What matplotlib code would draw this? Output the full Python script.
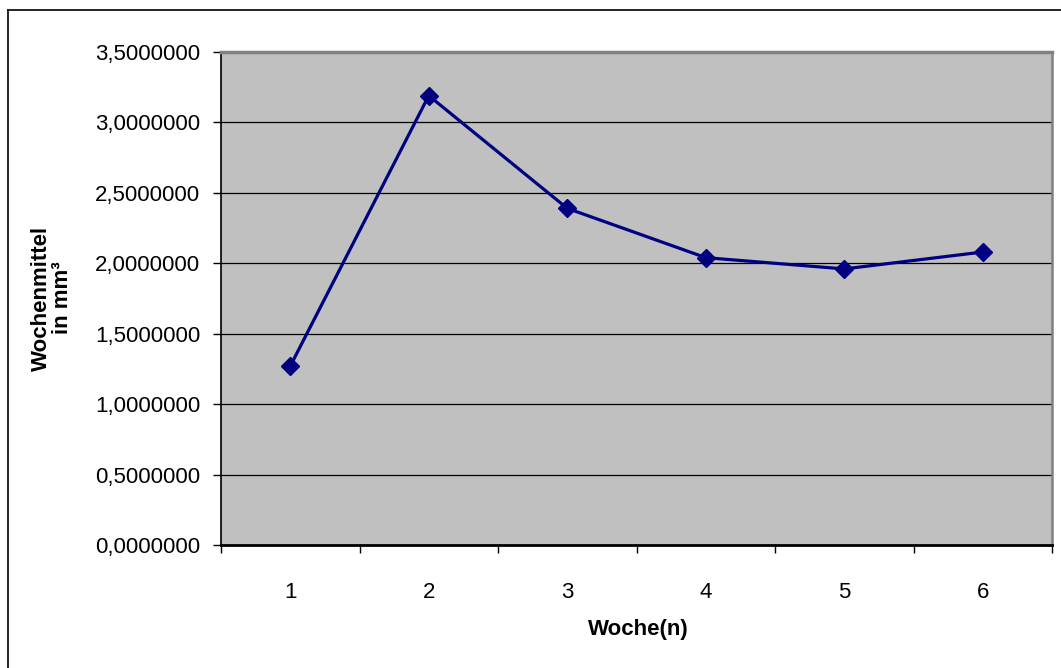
import matplotlib.pyplot as plt
from matplotlib.lines import Line2D
from matplotlib.ticker import FuncFormatter, FixedLocator

plt.rcParams['font.family'] = ['Liberation Sans', 'DejaVu Sans']

weeks = ["1", "2", "3", "4", "5", "6"]
means = [1.27, 3.19, 2.39, 2.04, 1.96, 2.08]
y_ticks = [0.0, 0.5, 1.0, 1.5, 2.0, 2.5, 3.0, 3.5]

W, H = 1061, 668
fig = plt.figure(figsize=(W / 100, H / 100), dpi=100)

# outer chart border (left and top edges visible in the reference)
fig.add_artist(Line2D([8 / W, 8 / W], [-0.1, 1 - 10 / H], color='black', lw=1.2,
                      transform=fig.transFigure))
fig.add_artist(Line2D([8 / W, 1.1], [1 - 10 / H, 1 - 10 / H], color='black', lw=1.2,
                      transform=fig.transFigure))

ax = fig.add_axes([221 / W, 1 - 545 / H, 831 / W, 493 / H])
ax.set_facecolor('#C0C0C0')

x = list(range(1, len(weeks) + 1))
ax.plot(x, means, color='#000080', lw=2.3, marker='D', markersize=9, zorder=3)

ax.set_xlim(0.5, len(weeks) + 0.5)
ax.set_ylim(0, 3.5)

# category ticks between groups, labels centered on groups
ax.xaxis.set_major_locator(FixedLocator([i + 0.5 for i in range(len(weeks) + 1)]))
ax.xaxis.set_major_formatter(FuncFormatter(lambda v, p: ""))
ax.xaxis.set_minor_locator(FixedLocator(x))
ax.set_xticklabels(weeks, minor=True)
ax.tick_params(axis='x', which='major', direction='out', length=6, width=1, color='black')
ax.tick_params(axis='x', which='minor', length=0, pad=27, labelsize=16)

ax.set_yticks(y_ticks)
ax.yaxis.set_major_formatter(FuncFormatter(lambda v, p: f"{v:.7f}".replace('.', ',')))
ax.tick_params(axis='y', direction='out', length=6, width=1, pad=9, labelsize=16)

for v in y_ticks[1:-1]:
    ax.axhline(v, color='black', lw=0.9, zorder=1)

ax.spines['left'].set_color('black')
ax.spines['left'].set_linewidth(1.2)
ax.spines['bottom'].set_color('black')
ax.spines['bottom'].set_linewidth(2)
ax.spines['top'].set_color('#808080')
ax.spines['top'].set_linewidth(2.5)
ax.spines['right'].set_color('#808080')
ax.spines['right'].set_linewidth(1.8)

fig.text(638 / W, 1 - 629 / H, "Woche(n)", fontsize=16, fontweight='bold',
         ha='center', va='center')
fig.text(52 / W, 1 - 298 / H, "Wochenmittel\nin mm³", fontsize=16, fontweight='bold',
         ha='center', va='center', rotation=90, multialignment='center', linespacing=0.95)

fig.savefig("out.png", dpi=100)
